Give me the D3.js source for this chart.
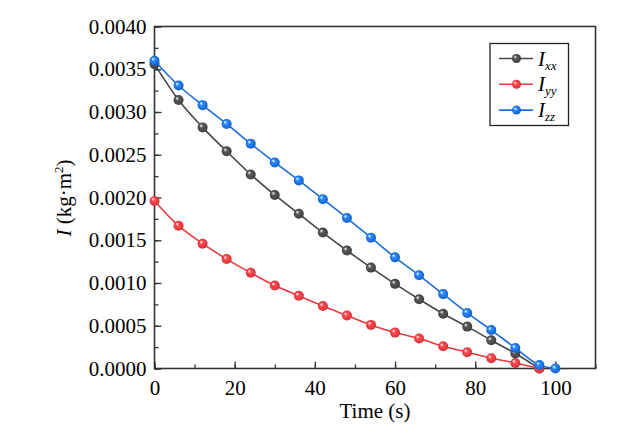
<!DOCTYPE html>
<html>
<head>
<meta charset="utf-8">
<script src="https://cdn.jsdelivr.net/npm/d3@7/dist/d3.min.js"></script>
<style>
body{margin:0;background:#fff;}
svg{display:block;}
text{font-family:"Liberation Serif","Times New Roman",serif;fill:#000;}
</style>
</head>
<body>
<svg id="chart" width="639" height="446"></svg>
<script>
const timeX = [0,6,12,18,24,30,36,42,48,54,60,66,72,78,84,90,96];
const ixx = [0.00356,0.00314,0.00282,0.00254,0.00227,0.00203,0.00181,0.00159,0.00138,0.00118,0.00099,0.00081,0.00064,0.00049,0.00033,0.000175,0.0000];
const iyy = [0.00196,0.00167,0.00146,0.00128,0.00112,0.00097,0.00085,0.00073,0.00062,0.00051,0.00042,0.00035,0.00026,0.00019,0.00012,0.000065,0.0000];
const izzX = [0,6,12,18,24,30,36,42,48,54,60,66,72,78,84,90,96,100];
const izz = [0.00360,0.00331,0.00308,0.00286,0.00263,0.00241,0.00220,0.00198,0.00176,0.00153,0.00130,0.00109,0.00087,0.00065,0.00045,0.00024,0.00004,0.0000];
const xTicks = [0,20,40,60,80,100];
const yTicks = [0,0.0005,0.0010,0.0015,0.0020,0.0025,0.0030,0.0035,0.0040];
const seriesNames = ["xx","yy","zz"];
const seriesColors = ["#474747","#e53b3f","#1d6ed8"];

const svg = d3.select("#chart");
const L = 154.5, R = 595.5, T = 26.5, B = 368.5;
const x = d3.scaleLinear().domain([0,110]).range([L,R]);
const y = d3.scaleLinear().domain([0,0.004]).range([B,T]);

const defs = svg.append("defs");
seriesColors.forEach((c,i)=>{
  const g = defs.append("radialGradient").attr("id","sph"+i)
    .attr("cx","50%").attr("cy","50%").attr("r","55%").attr("fx","32%").attr("fy","30%");
  g.append("stop").attr("offset","0%").attr("stop-color","#ffffff");
  g.append("stop").attr("offset","35%").attr("stop-color",d3.color(c).brighter(0.6));
  g.append("stop").attr("offset","75%").attr("stop-color",c);
  g.append("stop").attr("offset","100%").attr("stop-color",d3.color(c).darker(0.7));
});

// axes
const axisColor = "#333";
const xMinor = d3.range(0,111,10);
const yMinor = d3.range(0,0.00401,0.00025);
const gx = svg.append("g").attr("transform",`translate(0,${B})`);
gx.call(d3.axisBottom(x).tickValues(xMinor).tickSize(-4).tickFormat(""));
gx.call(g=>g.selectAll(".domain").remove());
gx.selectAll("line").attr("stroke",axisColor).attr("stroke-width",1.3);
const gx2 = svg.append("g").attr("transform",`translate(0,${B})`);
gx2.call(d3.axisBottom(x).tickValues(xTicks).tickSize(-7).tickPadding(12).tickFormat(d3.format("d")));
gx2.select(".domain").remove();
gx2.selectAll("line").attr("stroke",axisColor).attr("stroke-width",1.3);
gx2.selectAll("text").attr("font-size",21).attr("dy","0.71em").attr("font-family","Liberation Serif");

const gy = svg.append("g").attr("transform",`translate(${L},0)`);
gy.call(d3.axisLeft(y).tickValues(yMinor).tickSize(-4).tickFormat(""));
gy.select(".domain").remove();
gy.selectAll("line").attr("stroke",axisColor).attr("stroke-width",1.3);
const gy2 = svg.append("g").attr("transform",`translate(${L},0)`);
gy2.call(d3.axisLeft(y).tickValues(yTicks).tickSize(-7).tickPadding(8).tickFormat(d3.format(".4f")));
gy2.select(".domain").remove();
gy2.selectAll("line").attr("stroke",axisColor).attr("stroke-width",1.3);
gy2.selectAll("text").attr("font-size",21).attr("font-family","Liberation Serif");

// frame
svg.append("rect").attr("x",L).attr("y",T).attr("width",R-L).attr("height",B-T)
  .attr("fill","none").attr("stroke",axisColor).attr("stroke-width",1.6);

// series
const data = [
  timeX.map((t,i)=>[t,ixx[i]]),
  timeX.map((t,i)=>[t,iyy[i]]),
  izzX.map((t,i)=>[t,izz[i]])
];
const line = d3.line().x(d=>x(d[0])).y(d=>y(d[1])).curve(d3.curveMonotoneX);
data.forEach((pts,i)=>{
  const g = svg.append("g");
  g.append("path").datum(pts).attr("d",line).attr("fill","none")
    .attr("stroke",seriesColors[i]).attr("stroke-width",1.6);
  g.selectAll("circle").data(pts).join("circle")
    .attr("cx",d=>x(d[0])).attr("cy",d=>y(d[1])).attr("r",5)
    .attr("fill",`url(#sph${i})`);
});

// legend
const lg = svg.append("g");
lg.append("rect").attr("x",490).attr("y",43.5).attr("width",78.5).attr("height",82)
  .attr("fill","#fff").attr("stroke","#222").attr("stroke-width",1.3);
seriesNames.forEach((n,i)=>{
  const yy = 58.5 + i*25.8;
  lg.append("line").attr("x1",499).attr("x2",533).attr("y1",yy).attr("y2",yy)
    .attr("stroke",seriesColors[i]).attr("stroke-width",1.6);
  lg.append("circle").attr("cx",516.5).attr("cy",yy).attr("r",4.5).attr("fill",`url(#sph${i})`);
  const t = lg.append("text").attr("x",538).attr("y",yy+7).attr("font-size",21).attr("font-style","italic");
  t.append("tspan").text("I");
  t.append("tspan").attr("font-size",13).attr("dy",4).text(n);
});

// axis titles
svg.append("text").attr("x",375).attr("y",418).attr("text-anchor","middle").attr("font-size",21).text("Time (s)");
const yt = svg.append("text").attr("transform","translate(71,198) rotate(-90)").attr("text-anchor","middle").attr("font-size",21);
yt.append("tspan").attr("font-style","italic").text("I");
yt.append("tspan").text(" (kg·m");
yt.append("tspan").attr("font-size",13).attr("dy",-8).text("2");
yt.append("tspan").attr("dy",8).text(")");
</script>
</body>
</html>
